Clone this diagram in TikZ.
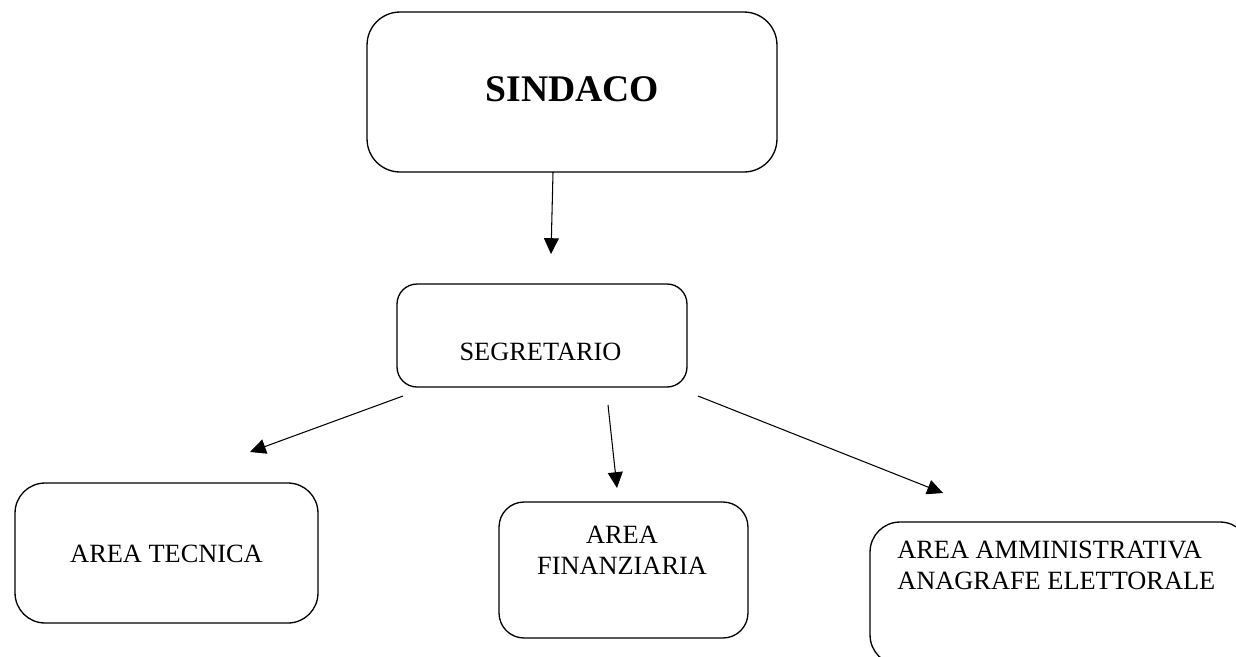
\documentclass[tikz,border=0pt]{standalone}
\usepackage{fontspec}
\setmainfont{Liberation Serif}
\usetikzlibrary{arrows.meta}

\begin{document}
\begin{tikzpicture}[x=0.02cm, y=-0.02cm,
        box/.style={draw, line width=0.75pt, rounded corners=#1, inner sep=0pt},
        box/.default=0.5cm,
        lbl/.style={font=\fontsize{15}{17.5}\selectfont, inner sep=0pt},
        link/.style={line width=0.6pt, -{Triangle[length=9pt, width=8.5pt]}}]
            \useasboundingbox (0, 0) rectangle (1236, 656);
            % boxes
            \node[box=0.66cm, minimum width=8.2cm, minimum height=3.2cm] (sindaco) at (572, 92) {};
            \node[box=0.4cm, minimum width=5.8cm, minimum height=2.06cm] (segretario) at (542, 335.5) {};
            \node[box=0.6cm, minimum width=6.06cm, minimum height=2.8cm] (tecnica) at (166.5, 553) {};
            \node[box=0.5cm, minimum width=4.98cm, minimum height=2.72cm] (finanziaria) at (623.5, 570) {};
            \node[box=0.6cm, minimum width=7.6cm, minimum height=2.86cm] (amministrativa) at (1060, 593.5) {};
            % texts
            \node[inner sep=0pt, font=\fontsize{21.4}{25}\selectfont\bfseries, anchor=base] (sindaco-txt) at (572.5, 101) {SINDACO};
            \node[lbl, anchor=base] (segretario-txt) at (540.5, 360) {SEGRETARIO};
            \node[lbl, anchor=base] (tecnica-txt) at (166.5, 562) {AREA TECNICA};
            \node[lbl, anchor=north, align=center] (finanziaria-txt) at (622, 526) {AREA\\FINANZIARIA};
            \node[lbl, anchor=north west, align=left] (amministrativa-txt) at (897, 541) {AREA AMMINISTRATIVA\\ANAGRAFE ELETTORALE};
            % arrow ends
            \coordinate (s1) at (553, 172);
            \coordinate (s2) at (551, 254);
            \coordinate (t1) at (403, 396);
            \coordinate (t2) at (250, 452);
            \coordinate (f1) at (608, 405);
            \coordinate (f2) at (617, 488);
            \coordinate (a1) at (698, 396);
            \coordinate (a2) at (943, 493);
            \draw[link] (s1) -- (s2);
            \draw[link] (t1) -- (t2);
            \draw[link] (f1) -- (f2);
            \draw[link] (a1) -- (a2);
        \end{tikzpicture}
\end{document}
